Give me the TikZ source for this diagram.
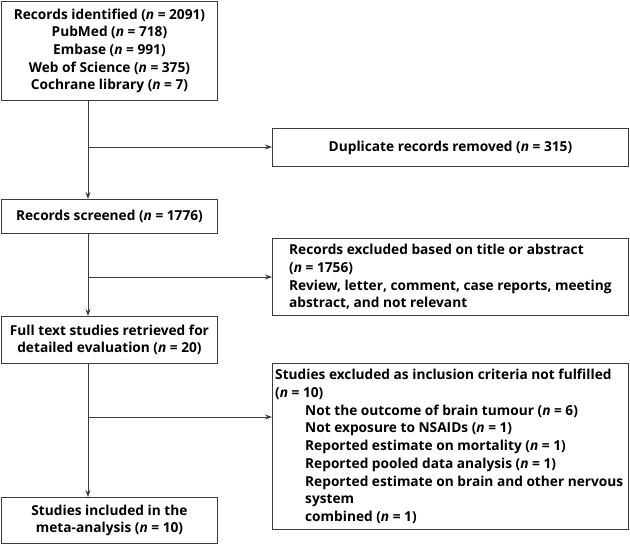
\documentclass[tikz,border=0pt]{standalone}
\usepackage{fontspec}
\setmainfont{Open Sans}
\usetikzlibrary{arrows.meta}
\definecolor{linec}{RGB}{60,60,60}
\begin{document}
\begin{tikzpicture}[x=1pt,y=-1pt,
  txt/.style={inner sep=0pt, text=black, font=\bfseries\fontsize{13.7}{17.7}\selectfont},
  box/.style={txt, draw=linec, line width=0.9pt},
  cbox/.style={box, align=center},
  ltxt/.style={txt, align=left, anchor=west},
  arr/.style={draw=linec, line width=0.9pt, -{Stealth[length=7pt,width=5pt]}}]
\useasboundingbox (0,0) rectangle (630,545);
\node[cbox, minimum width=216pt, minimum height=99pt, anchor=north west] (id) at (1,1)
 {Records identified (\textit{n} = 2091)\\PubMed (\textit{n} = 718)\\Embase (\textit{n} = 991)\\Web of Science (\textit{n} = 375)\\Cochrane library (\textit{n} = 7)};
\node[cbox, minimum width=356pt, minimum height=38pt, anchor=north west] (dup) at (272,128)
 {Duplicate records removed (\textit{n} = 315)};
\node[cbox, minimum width=216pt, minimum height=34pt, anchor=north west] (scr) at (1,199)
 {Records screened (\textit{n} = 1776)};
\node[box, minimum width=356pt, minimum height=77pt, anchor=north west] (exa) at (272,238) {};
\node[ltxt] (exat) at ([xshift=17pt]exa.west)
 {Records excluded based on title or abstract\\(\textit{n} = 1756)\\Review, letter, comment, case reports, meeting\\abstract, and not relevant};
\node[cbox, minimum width=216pt, minimum height=47pt, anchor=north west] (full) at (1,316)
 {Full text studies retrieved for\\detailed evaluation (\textit{n} = 20)};
\node[box, minimum width=356pt, minimum height=166pt, anchor=north west] (exb) at (272,363) {};
\node[ltxt] (exbt) at ([xshift=3pt]exb.west)
 {Studies excluded as inclusion criteria not fulfilled\\(\textit{n} = 10)\\
 \hspace*{30pt}Not the outcome of brain tumour (\textit{n} = 6)\\
 \hspace*{30pt}Not exposure to NSAIDs (\textit{n} = 1)\\
 \hspace*{30pt}Reported estimate on mortality (\textit{n} = 1)\\
 \hspace*{30pt}Reported pooled data analysis (\textit{n} = 1)\\
 \hspace*{30pt}Reported estimate on brain and other nervous\\
 \hspace*{30pt}system\\
 \hspace*{30pt}combined (\textit{n} = 1)};
\node[cbox, minimum width=216pt, minimum height=46pt, anchor=north west] (inc) at (1,497)
 {Studies included in the\\meta-analysis (\textit{n} = 10)};
\coordinate (sp) at (88,0);
\coordinate (b1) at (88,147);
\coordinate (b2) at (88,277);
\coordinate (b3) at (88,417);
\draw[arr] (id.south -| sp) -- (scr.north -| sp);
\draw[arr] (b1) -- (b1 -| dup.west);
\draw[arr] (scr.south -| sp) -- (full.north -| sp);
\draw[arr] (b2) -- (b2 -| exa.west);
\draw[arr] (full.south -| sp) -- (inc.north -| sp);
\draw[arr] (b3) -- (b3 -| exb.west);
\end{tikzpicture}
\end{document}
